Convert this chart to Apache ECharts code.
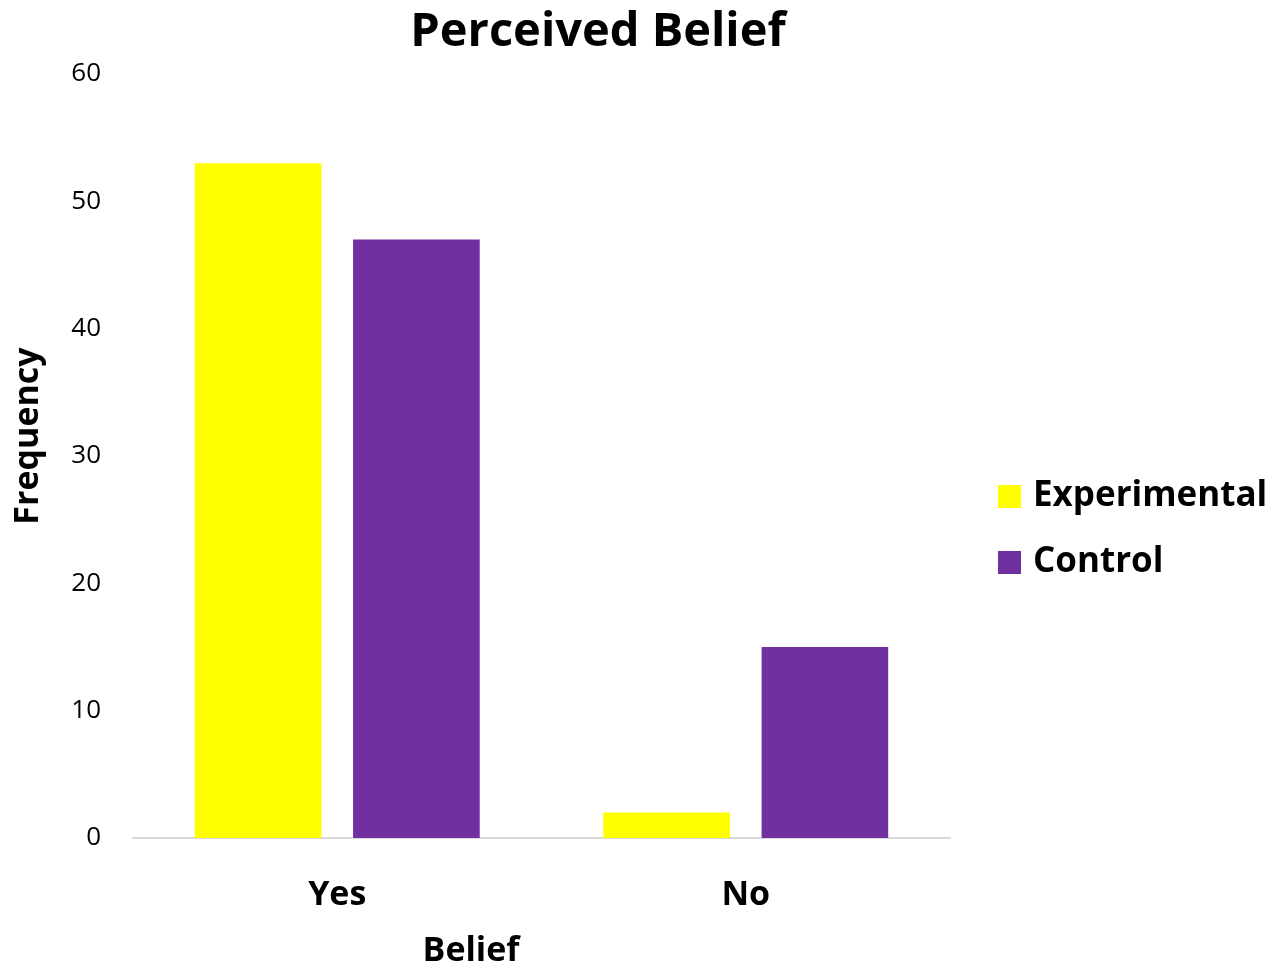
<!DOCTYPE html>
<html><head><meta charset="utf-8">
<script src="https://cdn.jsdelivr.net/npm/echarts@6/dist/echarts.min.js"></script>
<style>html,body{margin:0;padding:0;background:#fff}#c{width:1287px;height:973px}</style>
</head><body><div id="c"></div>
<script>
const categories = ['Yes', 'No'];
const experimental = [53, 2];
const control = [47, 15];
const yTicks = [0, 10, 20, 30, 40, 50, 60];

const FONT = '"Open Sans", "Noto Sans", sans-serif';
const chart = echarts.init(document.getElementById('c'), null, {renderer: 'canvas'});
chart.setOption({
  backgroundColor: '#ffffff',
  animation: false,
  grid: {left: 133, right: 337, top: 74, bottom: 135},
  legend: {
    orient: 'vertical', left: 993, top: 474, itemWidth: 23, itemHeight: 23, itemGap: 31,
    icon: 'rect',
    textStyle: {fontFamily: FONT, fontWeight: 'bold', fontSize: 35, color: '#000', padding: [0, 0, 0, 7]},
    data: ['Experimental', 'Control']
  },
  xAxis: {
    type: 'category', data: categories,
    axisLine: {lineStyle: {color: '#d9d9d9', width: 2}},
    axisTick: {show: false},
    axisLabel: {fontFamily: FONT, fontWeight: 'bold', fontSize: 34, color: '#000', margin: 40}
  },
  yAxis: {
    type: 'value', min: yTicks[0], max: yTicks[yTicks.length - 1], interval: 10,
    axisLine: {show: false}, axisTick: {show: false}, splitLine: {show: false},
    axisLabel: {fontFamily: FONT, fontSize: 26, color: '#000', margin: 32}
  },
  graphic: [
    {type: 'text', x: 598, y: 33, style: {text: 'Perceived Belief', fontFamily: FONT, fontWeight: 'bold', fontSize: 47, fill: '#000', align: 'center', verticalAlign: 'middle'}},
    {type: 'text', x: 471, y: 951, style: {text: 'Belief', fontFamily: FONT, fontWeight: 'bold', fontSize: 34, fill: '#000', align: 'center', verticalAlign: 'middle'}},
    {type: 'text', x: 28, y: 436, rotation: Math.PI / 2, style: {text: 'Frequency', fontFamily: FONT, fontWeight: 'bold', fontSize: 34, fill: '#000', align: 'center', verticalAlign: 'middle'}}
  ],
  series: [
    {name: 'Experimental', type: 'bar', data: experimental, barWidth: '31%', barGap: '25%', itemStyle: {color: '#ffff00'}},
    {name: 'Control', type: 'bar', data: control, barWidth: '31%', barGap: '25%', itemStyle: {color: '#7030a0'}}
  ]
});
</script></body></html>
